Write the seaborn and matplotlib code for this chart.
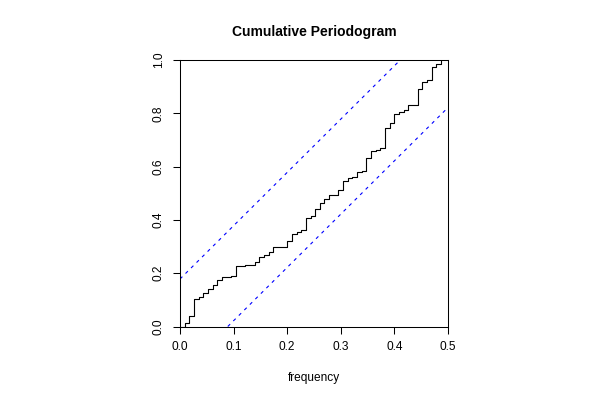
import numpy as np
import pandas as pd
import matplotlib
matplotlib.use("Agg")
import matplotlib.pyplot as plt
import seaborn as sns

# series length and cumulative periodogram values
n_obs = 115
cum_power = [
    0.000, 0.013, 0.041, 0.102, 0.111, 0.124, 0.141, 0.156, 0.174, 0.184,
    0.185, 0.191, 0.226, 0.227, 0.229, 0.232, 0.243, 0.261, 0.268, 0.278,
    0.297, 0.297, 0.298, 0.322, 0.347, 0.353, 0.362, 0.409, 0.413, 0.440,
    0.464, 0.479, 0.492, 0.493, 0.514, 0.547, 0.558, 0.560, 0.579, 0.584,
    0.631, 0.659, 0.663, 0.671, 0.746, 0.762, 0.798, 0.804, 0.812, 0.830,
    0.832, 0.891, 0.918, 0.925, 0.975, 0.985, 1.000,
]
x_ticks = [0.0, 0.1, 0.2, 0.3, 0.4, 0.5]
y_ticks = [0.0, 0.2, 0.4, 0.6, 0.8, 1.0]
title = "Cumulative Periodogram"
x_label = "frequency"


def main():
    sns.set_style("ticks")
    plt.rcParams['font.family'] = ['Liberation Sans', 'DejaVu Sans']
    plt.rcParams['text.color'] = 'black'
    plt.rcParams['axes.labelcolor'] = 'black'

    freq = np.arange(len(cum_power)) / n_obs
    df = pd.DataFrame({"frequency": freq, "cum": cum_power})

    # Kolmogorov-Smirnov style band as in R's cpgram
    xm = 0.5
    mp = len(cum_power) - 1
    crit = 1.358 / (np.sqrt(mp) + 0.12 + 0.11 / np.sqrt(mp))

    fig = plt.figure(figsize=(6, 4), dpi=100)
    ax = fig.add_axes([0.30, 0.18375, 0.4467, 0.66625])

    sns.lineplot(data=df, x="frequency", y="cum", ax=ax, color="black",
                 linewidth=0.8, drawstyle="steps-post", estimator=None)
    ax.plot([0, xm * (1 - crit)], [crit, 1], color="blue",
            linewidth=0.8, linestyle=(0, (3, 4)))
    ax.plot([xm * crit, xm], [0, 1 - crit], color="blue",
            linewidth=0.8, linestyle=(0, (3, 4)))

    ax.set_xlim(0, xm)
    ax.set_ylim(0, 1)
    ax.set_xticks(x_ticks)
    ax.set_xticklabels([f"{t:.1f}" for t in x_ticks])
    ax.set_yticks(y_ticks)
    ax.set_yticklabels([f"{t:.1f}" for t in y_ticks], rotation=90, va="center")
    ax.tick_params(direction="out", length=5, width=0.75, pad=5.8,
                   labelsize=8.6, colors="black")
    for s in ax.spines.values():
        s.set_visible(True)
        s.set_color("black")
        s.set_linewidth(0.75)

    ax.set_xlabel(x_label, fontsize=8.6, labelpad=13, color="black")
    ax.set_ylabel("")
    ax.set_title(title, fontsize=10, fontweight="bold", pad=17, color="black")

    fig.savefig("out.png", dpi=100, facecolor="white")
    plt.close(fig)


if __name__ == "__main__":
    main()
